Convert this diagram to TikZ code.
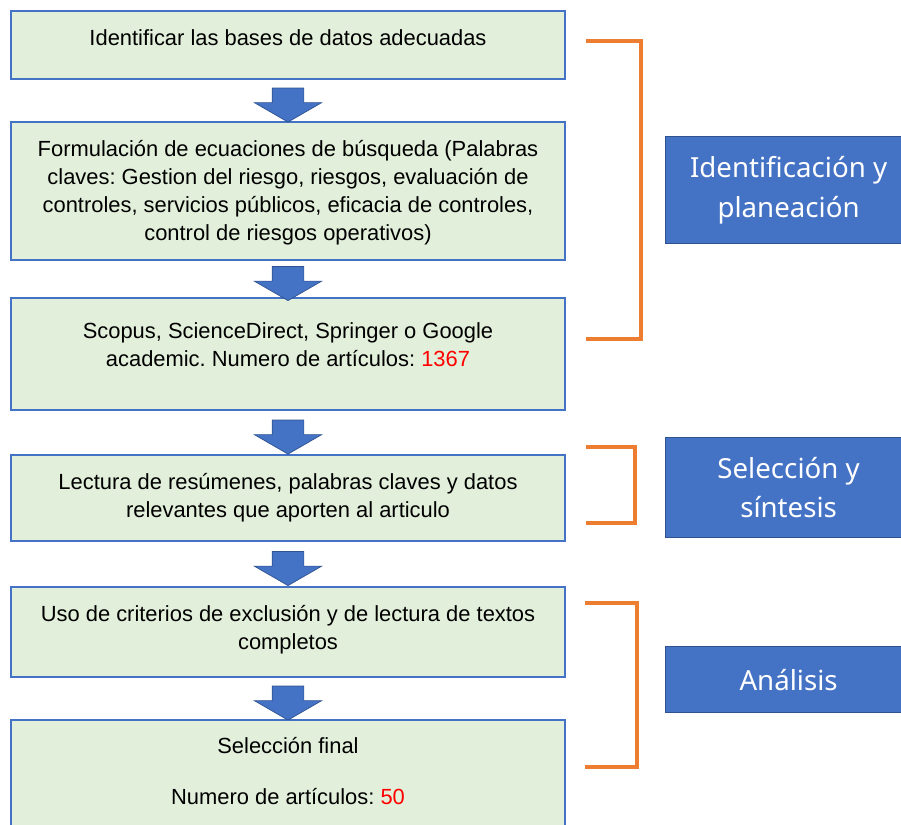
\documentclass[tikz,border=0pt]{standalone}
\usepackage{fontspec}
\setmainfont{Liberation Sans}
\newfontfamily\fasefont{Noto Sans}
\usepackage{tikz}
\usetikzlibrary{positioning,calc}
\usetikzlibrary{shapes.arrows}
\definecolor{verde}{HTML}{E2EFDA}
\definecolor{azul}{HTML}{4472C4}
\definecolor{azulosc}{HTML}{2F528F}
\definecolor{naranja}{HTML}{ED7D31}
\definecolor{rojo}{HTML}{FF0000}
\frenchspacing
% texto arriba dentro de la caja
\newcommand{\txtcaja}[3]{\parbox[c][#1][t]{16cm}{\centering\vspace*{#2}\strut #3}}

\begin{document}
\begin{tikzpicture}[auto,
  caja/.style={draw=azul, fill=verde, line width=1.5pt, minimum width=16.62cm, inner sep=0pt, outer sep=0pt, anchor=north, font=\fontsize{18.7}{23.8}\selectfont},
  flecha/.style={shape=single arrow, rotate=-90, draw=azulosc, fill=azul, line width=0.6pt, inner xsep=0pt, inner ysep=0.465cm, minimum height=1.02cm, single arrow head extend=0.535cm, single arrow tip angle=120},
  fase/.style={draw=azulosc, fill=azul, line width=1pt, text=white, minimum width=7.38cm, anchor=north west, align=center, font=\fasefont\fontsize{23.6}{34}\selectfont},
  llave/.style={draw=naranja, line width=3pt}]
  \clip (0,0) rectangle (27.03,-24.75);

  \node[caja] (b1) at (8.64,-0.33) {\txtcaja{2.04cm}{0.45cm}{Identificar las bases de datos adecuadas}};
  \node[caja, below=1.29cm of b1] (b2) {\txtcaja{4.14cm}{0.45cm}{Formulación de ecuaciones de búsqueda (Palabras\\claves: Gestion del riesgo, riesgos, evaluación de\\controles, servicios públicos, eficacia de controles,\\control de riesgos operativos)}};
  \node[caja, below=1.14cm of b2] (b3) {\txtcaja{3.36cm}{0.63cm}{Scopus, ScienceDirect, Springer o Google\\academic. Numero de artículos: \textcolor{rojo}{1367}}};
  \node[caja, below=1.35cm of b3] (b4) {\txtcaja{2.58cm}{0.45cm}{Lectura de resúmenes, palabras claves y datos\\relevantes que aporten al articulo}};
  \node[caja, below=1.38cm of b4] (b5) {\txtcaja{2.7cm}{0.45cm}{Uso de criterios de exclusión y de lectura de textos\\completos}};
  \node[caja, below=1.29cm of b5] (b6) {\txtcaja{3.6cm}{0.42cm}{Selección final\\[20pt]Numero de artículos: \textcolor{rojo}{50}}};

  \foreach \a/\b in {b1/b2, b2/b3, b3/b4, b4/b5, b5/b6}
    \node[flecha] (f\a) at ($(\a.south)!0.5!(\b.north)$) {};

  \node[fase, minimum height=3.21cm] (identif) at (19.95,-4.08) {Identificación y\\planeación};
  \node[fase, minimum height=3.0cm] (selec) at (19.95,-13.11) {Selección y\\síntesis};
  \node[fase, minimum height=1.98cm] (analisis) at (19.95,-19.38) {Análisis};

  \draw[llave] (17.58,-1.23) -| (19.23,-10.17) -- (17.58,-10.17);
  \draw[llave] (17.58,-13.41) -| (19.05,-15.69) -- (17.58,-15.69);
  \draw[llave] (17.55,-18.09) -| (19.11,-23.01) -- (17.55,-23.01);
\end{tikzpicture}
\end{document}
